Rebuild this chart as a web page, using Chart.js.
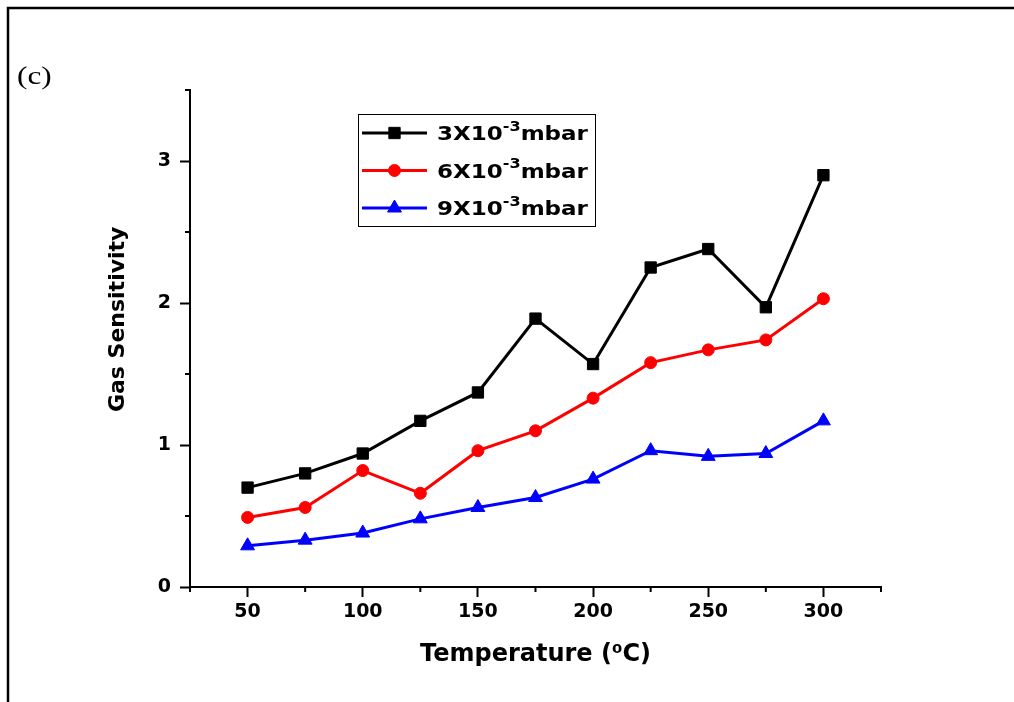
<!DOCTYPE html>
<html>
<head>
<meta charset="utf-8">
<script src="https://cdn.jsdelivr.net/npm/chart.js@4.4.0/dist/chart.umd.min.js"></script>
<style>
html, body { margin: 0; padding: 0; background: #fff; }
#wrap { position: relative; width: 1014px; height: 702px; }
</style>
</head>
<body>
<div id="wrap"><canvas id="gas-chart" width="1014" height="702"></canvas></div>
<script>
// values
const temperatures = [50, 75, 100, 125, 150, 175, 200, 225, 250, 275, 300];
const sens3 = [0.70, 0.80, 0.94, 1.17, 1.37, 1.89, 1.57, 2.25, 2.38, 1.97, 2.90];
const sens6 = [0.49, 0.56, 0.82, 0.66, 0.96, 1.10, 1.33, 1.58, 1.67, 1.74, 2.03];
const sens9 = [0.29, 0.33, 0.38, 0.48, 0.56, 0.63, 0.76, 0.96, 0.92, 0.94, 1.17];
const seriesLabels = ['3X10⁻³mbar', '6X10⁻³mbar', '9X10⁻³mbar'];
const seriesColors = ['#000000', '#ff0000', '#0000ff'];
const seriesMarkers = ['rect', 'circle', 'triangle'];
const markerSizes = [8, 6, 8];
const xTickLabels = [50, 100, 150, 200, 250, 300];
const yTickLabels = [0, 1, 2, 3];

const FONT = '"DejaVu Sans", "Liberation Sans", Arial, sans-serif';

function toPoints(vals) {
	return temperatures.map(function (t, i) { return { x: t, y: vals[i] }; });
}

const allSeries = [sens3, sens6, sens9];
const datasets = allSeries.map(function (vals, i) {
	return {
		label: seriesLabels[i],
		data: toPoints(vals),
		borderColor: seriesColors[i],
		backgroundColor: seriesColors[i],
		borderWidth: 3,
		pointStyle: seriesMarkers[i],
		pointRadius: markerSizes[i],
		pointBorderWidth: 1,
		pointBackgroundColor: seriesColors[i],
		pointBorderColor: seriesColors[i],
		tension: 0,
		clip: false
	};
});

function drawMarker(ctx, style, x, y, r) {
	ctx.beginPath();
	if (style === 'rect') {
		const s = Math.SQRT1_2 * r;
		ctx.rect(x - s, y - s, 2 * s, 2 * s);
	} else if (style === 'circle') {
		ctx.arc(x, y, r, 0, Math.PI * 2);
	} else {
		ctx.moveTo(x, y - r);
		ctx.lineTo(x + r * Math.sin(2 * Math.PI / 3), y + r * 0.5);
		ctx.lineTo(x - r * Math.sin(2 * Math.PI / 3), y + r * 0.5);
		ctx.closePath();
	}
	ctx.fill();
	ctx.stroke();
}

// frame, panel letter, minor ticks and the legend box
const extrasPlugin = {
	id: 'extras',
	afterDraw: function (chart) {
		const ctx = chart.ctx;
		const xs = chart.scales.x;
		const ys = chart.scales.y;
		ctx.save();

		// frame lines (top and left only)
		ctx.strokeStyle = '#000';
		ctx.lineWidth = 2.5;
		ctx.beginPath();
		ctx.moveTo(8, 702);
		ctx.lineTo(8, 8);
		ctx.lineTo(1014, 8);
		ctx.stroke();

		// panel letter
		ctx.fillStyle = '#000';
		ctx.font = '26px "Liberation Serif", "DejaVu Serif", serif';
		ctx.textBaseline = 'middle';
		ctx.textAlign = 'left';
		ctx.save();
		ctx.translate(17, 77);
		ctx.scale(1.2, 1);
		ctx.fillText('(c)', 0, 0);
		ctx.restore();

		// minor ticks
		ctx.lineWidth = 2;
		ctx.beginPath();
		xs.ticks.forEach(function (t) {
			if (xTickLabels.indexOf(t.value) === -1) {
				const px = xs.getPixelForValue(t.value);
				ctx.moveTo(px, xs.top);
				ctx.lineTo(px, xs.top + 5);
			}
		});
		ys.ticks.forEach(function (t) {
			if (yTickLabels.indexOf(t.value) === -1) {
				const py = ys.getPixelForValue(t.value);
				ctx.moveTo(ys.right, py);
				ctx.lineTo(ys.right - 5, py);
			}
		});
		ctx.stroke();

		// legend
		const lx = 358, ly = 114, lw = 237, lh = 112;
		ctx.lineWidth = 1;
		ctx.strokeStyle = '#000';
		ctx.strokeRect(lx + 0.5, ly + 0.5, lw, lh);
		ctx.textBaseline = 'middle';
		chart.data.datasets.forEach(function (ds, i) {
			const cy = 133 + i * 37.5;
			ctx.strokeStyle = ds.borderColor;
			ctx.fillStyle = ds.borderColor;
			ctx.lineWidth = 3;
			ctx.beginPath();
			ctx.moveTo(362, cy);
			ctx.lineTo(427, cy);
			ctx.stroke();
			ctx.lineWidth = 1;
			drawMarker(ctx, ds.pointStyle, 394.5, cy, ds.pointRadius);

			// label with a raised "-3"
			const parts = ds.label.split('⁻³');
			ctx.fillStyle = '#000';
			ctx.save();
			ctx.translate(437, cy + 2);
			ctx.scale(1.15, 1);
			let x = 0;
			ctx.font = 'bold 20px ' + FONT;
			ctx.fillText(parts[0], x, 0);
			x += ctx.measureText(parts[0]).width;
			ctx.font = 'bold 14px ' + FONT;
			ctx.fillText('-3', x, -8);
			x += ctx.measureText('-3').width;
			ctx.font = 'bold 20px ' + FONT;
			ctx.fillText(parts[1] || '', x, 0);
			ctx.restore();
		});
		ctx.restore();
	}
};

const majorOrClear = function (list) {
	return function (c) {
		return (c.tick && list.indexOf(c.tick.value) !== -1) ? '#000' : 'rgba(0,0,0,0)';
	};
};

new Chart(document.getElementById('gas-chart'), {
	type: 'line',
	data: { datasets: datasets },
	options: {
		responsive: false,
		animation: false,
		devicePixelRatio: 1,
		layout: { padding: { left: 90, right: 133, top: 90, bottom: 20 } },
		plugins: {
			legend: { display: false },
			tooltip: { enabled: false }
		},
		scales: {
			x: {
				type: 'linear',
				min: 25,
				max: 325,
				afterFit: function (s) { s.height = 95; },
				border: { display: true, color: '#000', width: 2 },
				grid: {
					drawOnChartArea: false,
					drawTicks: true,
					tickLength: 10,
					tickWidth: 2,
					tickColor: majorOrClear(xTickLabels)
				},
				ticks: {
					stepSize: 25,
					autoSkip: false,
					maxRotation: 0,
					padding: 4,
					color: '#000',
					font: { family: FONT, size: 19, weight: 'bold' },
					callback: function (v) { return xTickLabels.indexOf(v) !== -1 ? String(v) : ''; }
				},
				title: {
					display: true,
					text: 'Temperature (⁰C)',
					color: '#000',
					font: { family: FONT, size: 24, weight: 'bold' },
					padding: { top: 0, bottom: 13 }
				}
			},
			y: {
				type: 'linear',
				min: 0,
				max: 3.5,
				afterFit: function (s) { s.width = 100; },
				border: { display: true, color: '#000', width: 2 },
				grid: {
					drawOnChartArea: false,
					drawTicks: true,
					tickLength: 10,
					tickWidth: 2,
					tickColor: majorOrClear(yTickLabels)
				},
				ticks: {
					stepSize: 0.5,
					autoSkip: false,
					padding: 9,
					color: '#000',
					font: { family: FONT, size: 19, weight: 'bold' },
					callback: function (v) { return yTickLabels.indexOf(v) !== -1 ? String(v) : ''; }
				},
				title: {
					display: true,
					// leading spaces nudge the centred title up, as in the figure
					text: '     Gas Sensitivity',
					color: '#000',
					font: { family: FONT, size: 22, weight: 'bold' },
					padding: { top: 15, bottom: 0 }
				}
			}
		}
	},
	plugins: [extrasPlugin]
});
</script>
</body>
</html>
